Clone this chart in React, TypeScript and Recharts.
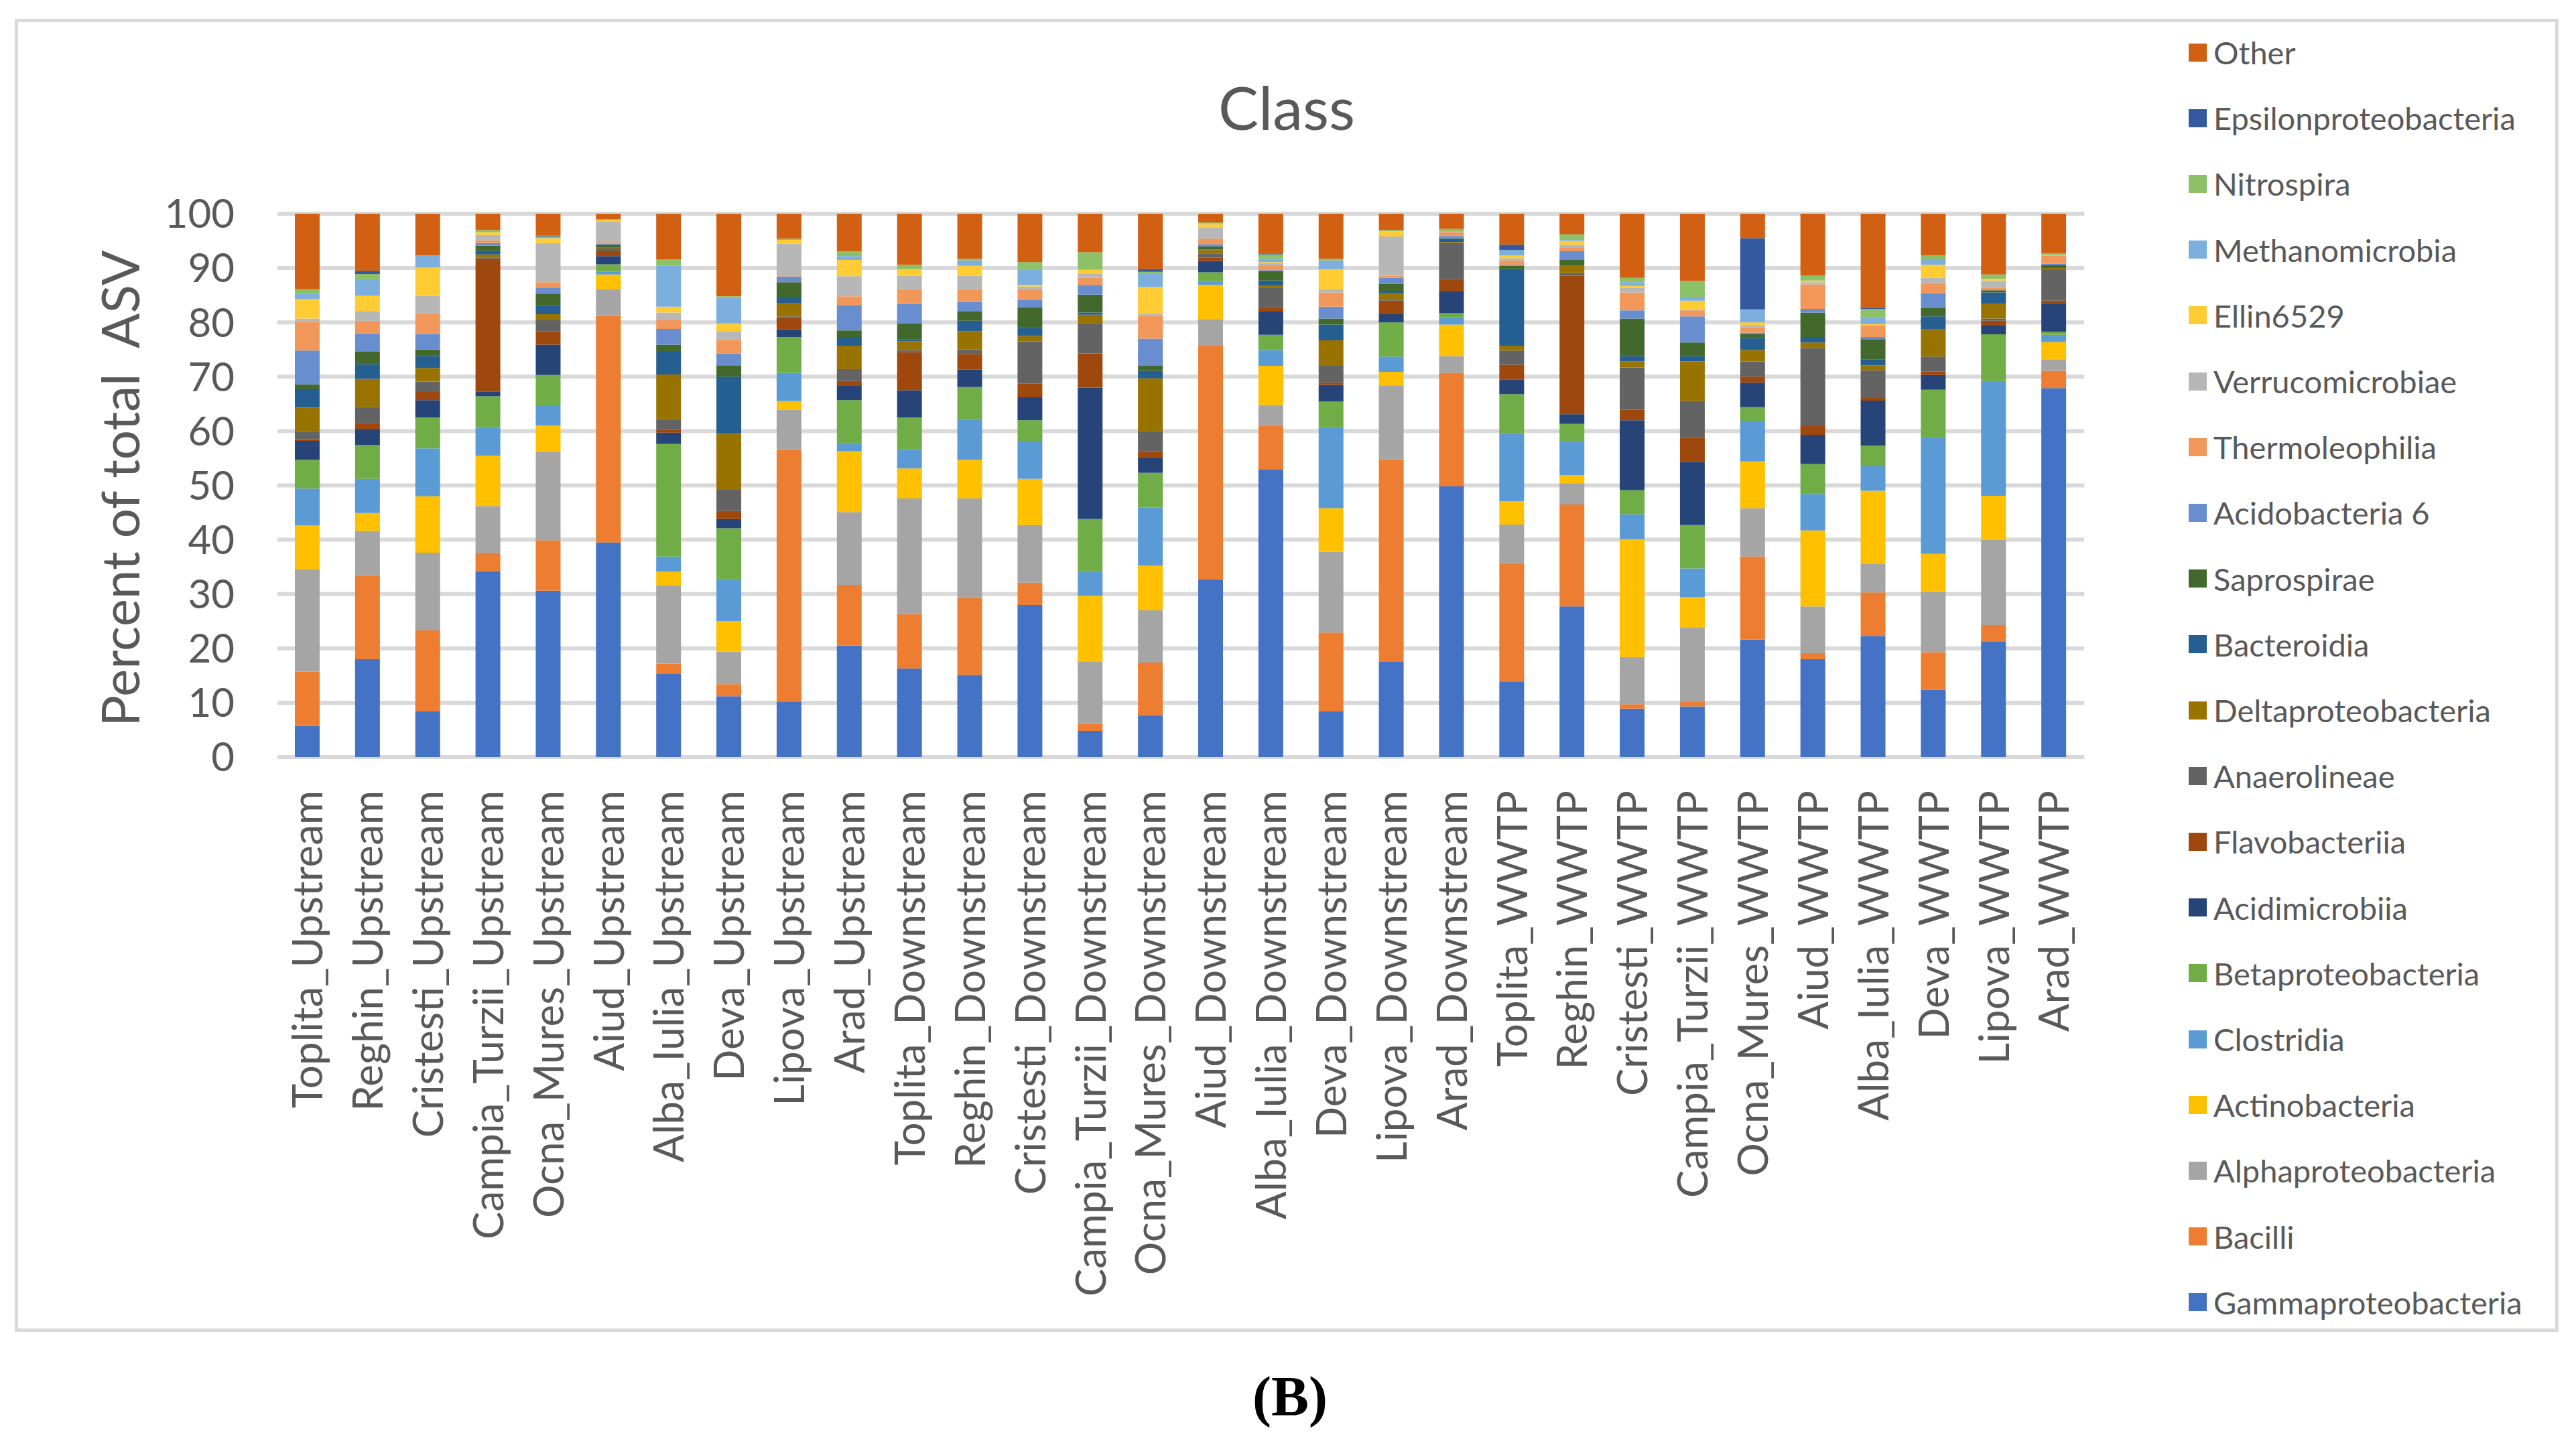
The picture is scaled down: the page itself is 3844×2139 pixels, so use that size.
import React from 'react'
import { BarChart, Bar, XAxis, YAxis, CartesianGrid } from 'recharts'

const sites = [
  'Toplita_Upstream', 'Reghin_Upstream', 'Cristesti_Upstream', 'Campia_Turzii_Upstream', 'Ocna_Mures_Upstream',
  'Aiud_Upstream', 'Alba_Iulia_Upstream', 'Deva_Upstream', 'Lipova_Upstream', 'Arad_Upstream',
  'Toplita_Downstream', 'Reghin_Downstream', 'Cristesti_Downstream', 'Campia_Turzii_Downstream', 'Ocna_Mures_Downstream',
  'Aiud_Downstream', 'Alba_Iulia_Downstream', 'Deva_Downstream', 'Lipova_Downstream', 'Arad_Downstream',
  'Toplita_WWTP', 'Reghin_WWTP', 'Cristesti_WWTP', 'Campia_Turzii_WWTP', 'Ocna_Mures_WWTP',
  'Aiud_WWTP', 'Alba_Iulia_WWTP', 'Deva_WWTP', 'Lipova_WWTP', 'Arad_WWTP',
]

// percent of total ASV per class, one value per site (same order as sites)
const gammaproteobacteria = [5.7, 18.0, 8.4, 34.2, 30.6, 39.5, 15.3, 11.2, 10.2, 20.5, 16.3, 15.1, 28.0, 4.8, 7.7, 32.7, 52.9, 8.4, 17.6, 49.8, 13.9, 27.7, 8.9, 9.3, 21.6, 18.0, 22.3, 12.4, 21.2, 67.9]
const bacilli = [10.0, 15.4, 14.9, 3.3, 9.3, 41.7, 1.9, 2.2, 46.3, 11.2, 10.0, 14.2, 4.1, 1.3, 9.7, 43.1, 8.0, 14.5, 37.2, 20.9, 21.8, 18.8, 0.8, 0.9, 15.3, 1.1, 8.0, 6.9, 3.1, 3.2]
const alphaproteobacteria = [18.9, 8.2, 14.3, 8.7, 16.3, 4.9, 14.4, 6.0, 7.4, 13.4, 21.3, 18.3, 10.6, 11.5, 9.6, 4.8, 3.9, 14.9, 13.6, 3.1, 7.1, 3.9, 8.7, 13.7, 8.9, 8.6, 5.3, 11.1, 15.7, 2.1]
const actinobacteria = [8.0, 3.3, 10.4, 9.3, 4.8, 2.7, 2.5, 5.6, 1.6, 11.2, 5.5, 7.1, 8.5, 12.1, 8.2, 6.3, 7.2, 8.0, 2.5, 5.8, 4.3, 1.5, 21.7, 5.5, 8.6, 14.0, 13.4, 7.0, 8.1, 3.2]
const clostridia = [6.8, 6.3, 8.8, 5.2, 3.6, 0.5, 2.8, 7.7, 5.2, 1.3, 3.4, 7.4, 7.0, 4.5, 10.7, 0.7, 2.9, 14.9, 2.8, 1.2, 12.5, 6.2, 4.6, 5.3, 7.5, 6.7, 4.5, 21.5, 21.1, 1.3]
const betaproteobacteria = [5.3, 6.2, 5.7, 5.7, 5.7, 1.4, 20.7, 9.4, 6.6, 8.1, 6.0, 6.0, 3.8, 9.6, 6.4, 1.6, 2.8, 4.7, 6.3, 0.9, 7.2, 3.2, 4.4, 8.0, 2.5, 5.5, 3.8, 8.7, 8.6, 0.6]
const acidimicrobiia = [3.5, 2.9, 3.2, 0.9, 5.6, 1.5, 2.1, 1.7, 1.4, 2.6, 5.0, 3.2, 4.2, 24.2, 2.9, 2.1, 4.3, 3.1, 1.5, 4.0, 2.7, 1.8, 12.9, 11.6, 4.5, 5.4, 8.3, 2.7, 1.6, 5.2]
const flavobacteriia = [0.3, 1.2, 1.5, 24.4, 2.5, 0.9, 0.5, 1.5, 2.1, 0.9, 7.0, 2.9, 2.5, 6.3, 1.0, 0.6, 0.6, 0.4, 2.5, 2.3, 2.7, 25.5, 1.9, 4.5, 1.1, 1.6, 0.5, 0.7, 0.9, 0.5]
const anaerolineae = [1.4, 2.9, 1.9, 0.2, 2.0, 0.5, 2.0, 3.9, 0.3, 2.2, 0.4, 0.8, 7.8, 5.5, 3.6, 0.8, 3.7, 3.1, 0.3, 6.6, 2.6, 0.5, 7.8, 6.7, 2.8, 14.4, 5.1, 2.7, 0.4, 5.8]
const deltaproteobacteria = [4.4, 5.2, 2.5, 0.6, 1.1, 0.1, 8.2, 10.3, 2.4, 4.3, 1.6, 3.4, 1.0, 1.6, 9.9, 0.6, 0.5, 4.7, 1.0, 0.2, 0.9, 1.3, 1.1, 7.3, 2.1, 1.0, 0.9, 5.1, 2.7, 0.2]
const bacteroidia = [3.4, 2.7, 2.2, 0.7, 1.5, 0.1, 4.2, 10.5, 1.1, 1.6, 0.4, 1.9, 1.5, 0.4, 1.4, 0.1, 0.9, 2.9, 0.4, 0.6, 14.1, 0.1, 1.0, 1.0, 2.2, 1.0, 1.1, 2.3, 2.1, 0]
const saprospirae = [0.9, 2.3, 1.2, 0.9, 2.3, 0.5, 1.3, 2.1, 2.8, 1.2, 2.9, 1.7, 3.8, 3.3, 0.9, 0.6, 1.7, 1.1, 1.4, 0.1, 0.6, 1.0, 6.9, 2.5, 0.7, 4.5, 3.7, 1.6, 0.4, 0.5]
const acidobacteria6 = [6.2, 3.4, 2.9, 0.5, 1.0, 0.2, 2.9, 2.2, 1.0, 4.6, 3.6, 1.8, 1.3, 1.8, 5.0, 0.4, 0.2, 2.2, 1.1, 0.4, 0.2, 1.6, 1.5, 4.8, 0.3, 0.7, 0.4, 2.7, 0, 0.3]
const thermoleophilia = [5.3, 2.3, 3.6, 0.5, 1.1, 0.2, 1.6, 2.5, 0.1, 1.7, 2.7, 2.3, 2.0, 1.3, 4.2, 1.0, 0.9, 2.6, 0.4, 0.7, 0.8, 0.6, 3.3, 1.1, 1.0, 4.5, 2.1, 1.8, 0.5, 1.5]
const verrucomicrobiae = [0.6, 1.7, 3.4, 1.0, 7.2, 3.9, 1.4, 1.5, 6.0, 3.7, 2.5, 2.5, 0.5, 0.7, 0.4, 2.0, 0.4, 0.6, 7.2, 0.2, 0.4, 0.6, 0.8, 0.2, 0.4, 0.4, 0, 1.0, 1.3, 0.1]
const ellin6529 = [3.6, 2.9, 5.2, 0.5, 0.9, 0.3, 1.1, 1.5, 0.7, 3.0, 1.2, 1.8, 0.3, 0.8, 4.9, 0.7, 0.2, 3.7, 1.0, 0, 0.5, 0.7, 0.4, 1.6, 0.5, 0.3, 0.3, 2.4, 0.3, 0]
const methanomicrobia = [1.0, 2.9, 2.2, 0, 0.2, 0, 7.5, 4.7, 0, 0.7, 0, 1.0, 2.9, 0, 2.4, 0.1, 0.6, 1.6, 0, 0, 1.0, 0.2, 0.7, 0.7, 2.4, 0, 1.1, 0.9, 0, 0]
const nitrospira = [0.8, 1.1, 0, 0.4, 0.1, 0.1, 1.2, 0.3, 0.2, 0.9, 0.8, 0.3, 1.3, 3.2, 0.4, 0.2, 0.8, 0.3, 0.2, 0.4, 0, 1.0, 0.8, 2.9, 0, 0.9, 1.7, 0.8, 0.8, 0.3]
const epsilonproteobacteria = [0, 0.6, 0, 0, 0.2, 0, 0, 0, 0, 0, 0, 0, 0, 0, 0.5, 0, 0.2, 0, 0, 0, 1.0, 0, 0, 0, 13.1, 0, 0.2, 0, 0, 0]
const other = [13.9, 10.5, 7.7, 3.0, 4.0, 1.0, 8.4, 15.2, 4.6, 6.9, 9.4, 8.3, 8.9, 7.1, 10.2, 1.6, 7.3, 8.3, 3.0, 2.8, 5.7, 3.8, 11.8, 12.4, 4.5, 11.4, 17.3, 7.7, 11.2, 7.3]

const yTicks = [0, 10, 20, 30, 40, 50, 60, 70, 80, 90, 100]

// stacking order, bottom to top
const classes = [
  { name: 'Gammaproteobacteria', values: gammaproteobacteria, color: '#4472C4' },
  { name: 'Bacilli', values: bacilli, color: '#ED7D31' },
  { name: 'Alphaproteobacteria', values: alphaproteobacteria, color: '#A5A5A5' },
  { name: 'Actinobacteria', values: actinobacteria, color: '#FFC000' },
  { name: 'Clostridia', values: clostridia, color: '#5B9BD5' },
  { name: 'Betaproteobacteria', values: betaproteobacteria, color: '#70AD47' },
  { name: 'Acidimicrobiia', values: acidimicrobiia, color: '#264478' },
  { name: 'Flavobacteriia', values: flavobacteriia, color: '#9E480E' },
  { name: 'Anaerolineae', values: anaerolineae, color: '#636363' },
  { name: 'Deltaproteobacteria', values: deltaproteobacteria, color: '#997300' },
  { name: 'Bacteroidia', values: bacteroidia, color: '#255E91' },
  { name: 'Saprospirae', values: saprospirae, color: '#43682B' },
  { name: 'Acidobacteria 6', values: acidobacteria6, color: '#698ED0' },
  { name: 'Thermoleophilia', values: thermoleophilia, color: '#F1975A' },
  { name: 'Verrucomicrobiae', values: verrucomicrobiae, color: '#B7B7B7' },
  { name: 'Ellin6529', values: ellin6529, color: '#FFCD33' },
  { name: 'Methanomicrobia', values: methanomicrobia, color: '#7CAFDD' },
  { name: 'Nitrospira', values: nitrospira, color: '#8CC168' },
  { name: 'Epsilonproteobacteria', values: epsilonproteobacteria, color: '#335AA1' },
  { name: 'Other', values: other, color: '#D26012' },
]

const rows = sites.map((site, i) => {
  const row: Record<string, string | number> = { site }
  classes.forEach(c => { row[c.name] = c.values[i] })
  return row
})

const textGray = '#595959'
const font = 'Lato, "Liberation Sans", sans-serif'

function SiteTick({ x, y, payload }: any) {
  return (
    <text
      transform={`translate(${x},${y + 48}) rotate(-90)`}
      textAnchor="end"
      dy="0.36em"
      fill={textGray}
      fontSize={62}
      fontFamily={font}
    >
      {payload.value}
    </text>
  )
}

export default function App() {
  return (
    <div style={{ position: 'absolute', left: 0, top: 0, width: 3844, height: 2139, background: '#fff', overflow: 'hidden' }}>
      <div style={{ position: 'absolute', left: 22, top: 28, width: 3796, height: 1960, border: '5px solid #d9d9d9', boxSizing: 'border-box' }} />

      <div style={{ position: 'absolute', left: 0, width: 3840, top: 104, textAlign: 'center', fontFamily: font, fontSize: 90, color: textGray, lineHeight: '110px' }}>
        Class
      </div>

      <div style={{
        position: 'absolute', left: 178, top: 729, transform: 'translate(-50%, -50%) rotate(-90deg)',
        whiteSpace: 'pre', fontFamily: font, fontSize: 78, color: textGray, lineHeight: '90px',
      }}>
        {'Percent of total  ASV'}
      </div>

      <BarChart
        width={3844}
        height={2139}
        data={rows}
        barSize={37}
        margin={{ top: 319, right: 734, left: 314, bottom: 909 }}
        style={{ position: 'absolute', left: 0, top: 0 }}
      >
        <CartesianGrid vertical={false} stroke="#d9d9d9" strokeWidth={6} />
        <XAxis
          dataKey="site"
          interval={0}
          height={100}
          axisLine={false}
          tickLine={false}
          tickSize={0}
          tick={<SiteTick />}
        />
        <YAxis
          width={100}
          domain={[0, 100]}
          ticks={yTicks}
          interval={0}
          axisLine={false}
          tickLine={false}
          tickSize={0}
          tickMargin={64}
          tick={{ fill: textGray, fontSize: 60, fontFamily: font }}
        />
        {classes.map(c => (
          <Bar key={c.name} dataKey={c.name} stackId="a" fill={c.color} isAnimationActive={false} />
        ))}
      </BarChart>

      {classes.slice().reverse().map((c, i) => (
        <div key={c.name} style={{ position: 'absolute', left: 3266, top: 78 + i * 98.2 - 30, height: 60, display: 'flex', alignItems: 'center' }}>
          <div style={{ width: 27, height: 27, background: c.color, marginRight: 10 }} />
          <span style={{ fontFamily: font, fontSize: 47, color: textGray, whiteSpace: 'nowrap' }}>{c.name}</span>
        </div>
      ))}

      <div style={{ position: 'absolute', left: 0, width: 3850, top: 2035, textAlign: 'center', fontFamily: '"Liberation Serif", serif', fontWeight: 'bold', fontSize: 84, color: '#000', lineHeight: '100px' }}>
        (B)
      </div>
    </div>
  )
}
